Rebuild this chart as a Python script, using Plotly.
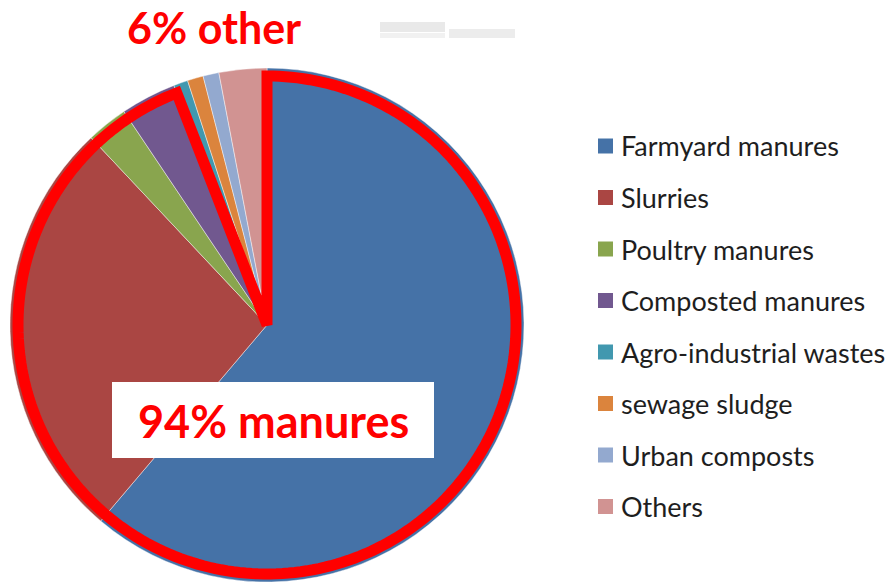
import math
import plotly.graph_objects as go

# ---- data ----
labels = ["Farmyard manures", "Slurries", "Poultry manures", "Composted manures",
          "Agro-industrial wastes", "sewage sludge", "Urban composts", "Others"]
values = [61.2, 26.8, 2.6, 3.5, 0.9, 1.0, 1.0, 3.0]
colors = ["#4572A7", "#AA4643", "#89A54E", "#71588F",
          "#4198AF", "#DB843D", "#93A9CF", "#D19392"]
n_manures = 4
manure_text = "94% manures"
other_text = "6% other"

# ---- geometry (page pixels; body margin removed) ----
W, H = 892, 586
CX, CY, R = 267, 325, 257


def px(x):
    return x / W


def py(y):
    return 1 - y / H


fig = go.Figure()
fig.add_trace(go.Pie(
    labels=labels, values=values, sort=False, direction="clockwise", rotation=0,
    marker=dict(colors=colors, line=dict(color="rgba(255,255,255,0.55)", width=0.8)),
    textinfo="none", hoverinfo="label+percent", showlegend=False,
    domain=dict(x=[px(CX - R), px(CX + R)], y=[py(CY + R), py(CY - R)]),
))

# red outline around the manure slices (derived from the data)
frac = sum(values[:n_manures]) / sum(values)
r_red = 249
pts = [(CX, CY)]
steps = 240
for i in range(steps + 1):
    th = 2 * math.pi * frac * i / steps
    pts.append((CX + r_red * math.sin(th), CY - r_red * math.cos(th)))
path = "M " + " L ".join(f"{px(x):.5f},{py(y):.5f}" for x, y in pts) + " Z"

shapes = [
    dict(type="path", path=path, xref="paper", yref="paper",
         line=dict(color="#FF0000", width=11), fillcolor="rgba(0,0,0,0)"),
    # white label box
    dict(type="rect", xref="paper", yref="paper", x0=px(112), x1=px(434), y0=py(458), y1=py(382),
         fillcolor="white", line=dict(width=0)),
    # faint grey artifacts at top
    dict(type="rect", xref="paper", yref="paper", x0=px(380), x1=px(445), y0=py(32), y1=py(22),
         fillcolor="#e9e9e9", line=dict(width=0)),
    dict(type="rect", xref="paper", yref="paper", x0=px(380), x1=px(445), y0=py(38), y1=py(33),
         fillcolor="#f1f1f1", line=dict(width=0)),
    dict(type="rect", xref="paper", yref="paper", x0=px(449), x1=px(515), y0=py(38), y1=py(29),
         fillcolor="#ececec", line=dict(width=0)),
]

annotations = [
    dict(text="<b>" + manure_text + "</b>", x=px(273), y=py(421), xref="paper", yref="paper",
         showarrow=False, xanchor="center", yanchor="middle",
         font=dict(family="Lato", size=45, color="#FF0000")),
    dict(text="<b>" + other_text + "</b>", x=px(214), y=py(27.5), xref="paper", yref="paper",
         showarrow=False, xanchor="center", yanchor="middle",
         font=dict(family="Lato", size=43, color="#FF0000")),
]

# legend drawn from labels/colors
for i, (lab, col) in enumerate(zip(labels, colors)):
    yc = 146 + 51.5 * i
    shapes.append(dict(type="rect", xref="paper", yref="paper",
                       x0=px(598), x1=px(613), y0=py(yc + 7.5), y1=py(yc - 7.5),
                       fillcolor=col, line=dict(width=0)))
    annotations.append(dict(text=lab, x=px(619), y=py(yc), xref="paper", yref="paper",
                            showarrow=False, xanchor="left", yanchor="middle",
                            font=dict(family="Lato", size=27, color="#1e1e1e")))

fig.update_layout(
    width=W, height=H, margin=dict(l=0, r=0, t=0, b=0),
    paper_bgcolor="white", plot_bgcolor="white",
    shapes=shapes, annotations=annotations, showlegend=False,
)
fig.write_html("out.html", config={"displayModeBar": False},
               post_script="document.body.style.margin='0';document.body.style.overflow='hidden';")
